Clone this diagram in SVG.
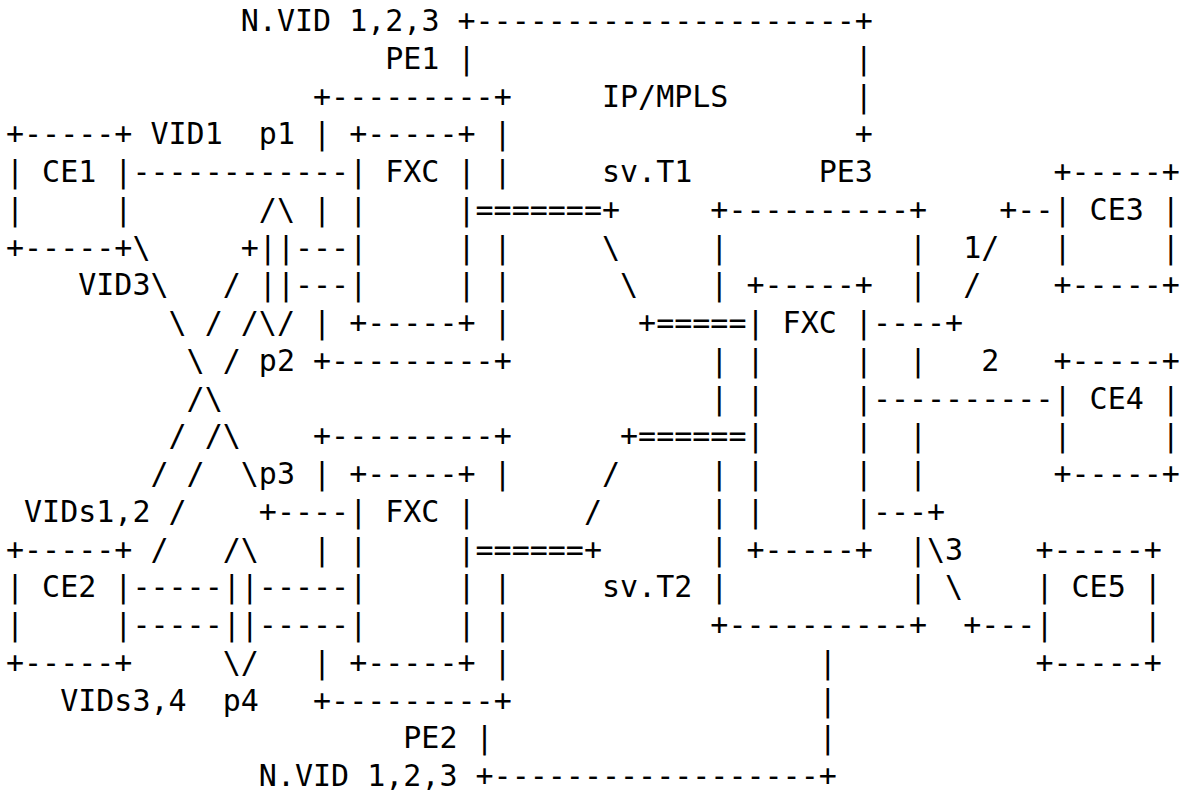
<svg xmlns="http://www.w3.org/2000/svg" width="1187" height="794" viewBox="0 0 1187 794" xml:space="preserve">
<style>
.t { font-family: "DejaVu Sans Mono", "Liberation Mono", monospace; font-size: 30px; fill: #000; white-space: pre; }
</style>
<rect x="0" y="0" width="1187" height="794" fill="#fff"/>
<g class="t">
<g id="CE1">
<text x="6" y="144.25">+-----+</text>
<text x="6" y="182">|&#160;CE1&#160;|</text>
<text x="6" y="219.75">|&#160;&#160;&#160;&#160;&#160;|</text>
<text x="6" y="257.5">+-----+</text>
</g>
<g id="CE2">
<text x="6" y="559.5">+-----+</text>
<text x="6" y="597.25">|&#160;CE2&#160;|</text>
<text x="6" y="635">|&#160;&#160;&#160;&#160;&#160;|</text>
<text x="6" y="672.75">+-----+</text>
</g>
<g id="CE3">
<text x="1053.48" y="182">+-----+</text>
<text x="1053.48" y="219.75">|&#160;CE3&#160;|</text>
<text x="1053.48" y="257.5">|&#160;&#160;&#160;&#160;&#160;|</text>
<text x="1053.48" y="295.25">+-----+</text>
</g>
<g id="CE4">
<text x="1053.48" y="370.75">+-----+</text>
<text x="1053.48" y="408.5">|&#160;CE4&#160;|</text>
<text x="1053.48" y="446.25">|&#160;&#160;&#160;&#160;&#160;|</text>
<text x="1053.48" y="484">+-----+</text>
</g>
<g id="CE5">
<text x="1035.42" y="559.5">+-----+</text>
<text x="1035.42" y="597.25">|&#160;CE5&#160;|</text>
<text x="1035.42" y="635">|&#160;&#160;&#160;&#160;&#160;|</text>
<text x="1035.42" y="672.75">+-----+</text>
</g>
<g id="PE1">
<text x="385.26" y="68.75">PE1</text>
<text x="313.02" y="106.5">+---------+</text>
<text x="313.02" y="144.25">|</text>
<text x="493.62" y="144.25">|</text>
<text x="493.62" y="182">|</text>
<text x="313.02" y="219.75">|</text>
<text x="493.62" y="257.5">|</text>
<text x="493.62" y="295.25">|</text>
<text x="313.02" y="333">|</text>
<text x="493.62" y="333">|</text>
<text x="313.02" y="370.75">+---------+</text>
</g>
<g id="FXC1">
<text x="349.14" y="144.25">+-----+</text>
<text x="349.14" y="182">|&#160;FXC&#160;|</text>
<text x="349.14" y="219.75">|&#160;&#160;&#160;&#160;&#160;|</text>
<text x="349.14" y="257.5">|&#160;&#160;&#160;&#160;&#160;|</text>
<text x="349.14" y="295.25">|&#160;&#160;&#160;&#160;&#160;|</text>
<text x="349.14" y="333">+-----+</text>
</g>
<g id="PE2">
<text x="313.02" y="446.25">+---------+</text>
<text x="313.02" y="484">|</text>
<text x="493.62" y="484">|</text>
<text x="313.02" y="559.5">|</text>
<text x="493.62" y="597.25">|</text>
<text x="493.62" y="635">|</text>
<text x="313.02" y="672.75">|</text>
<text x="493.62" y="672.75">|</text>
<text x="313.02" y="710.5">+---------+</text>
<text x="403.32" y="748.25">PE2</text>
</g>
<g id="FXC2">
<text x="349.14" y="484">+-----+</text>
<text x="349.14" y="521.75">|&#160;FXC&#160;|</text>
<text x="349.14" y="559.5">|&#160;&#160;&#160;&#160;&#160;|</text>
<text x="349.14" y="597.25">|&#160;&#160;&#160;&#160;&#160;|</text>
<text x="349.14" y="635">|&#160;&#160;&#160;&#160;&#160;|</text>
<text x="349.14" y="672.75">+-----+</text>
</g>
<g id="PE3">
<text x="818.7" y="182">PE3</text>
<text x="710.34" y="219.75">+----------+</text>
<text x="710.34" y="257.5">|</text>
<text x="909" y="257.5">|</text>
<text x="710.34" y="295.25">|</text>
<text x="909" y="295.25">|</text>
<text x="710.34" y="370.75">|</text>
<text x="909" y="370.75">|</text>
<text x="710.34" y="408.5">|</text>
<text x="909" y="446.25">|</text>
<text x="710.34" y="484">|</text>
<text x="909" y="484">|</text>
<text x="710.34" y="521.75">|</text>
<text x="710.34" y="559.5">|</text>
<text x="909" y="559.5">|</text>
<text x="710.34" y="597.25">|</text>
<text x="909" y="597.25">|</text>
<text x="710.34" y="635">+----------+</text>
</g>
<g id="FXC3">
<text x="746.46" y="295.25">+-----+</text>
<text x="746.46" y="333">|&#160;FXC&#160;|</text>
<text x="746.46" y="370.75">|&#160;&#160;&#160;&#160;&#160;|</text>
<text x="746.46" y="408.5">|&#160;&#160;&#160;&#160;&#160;|</text>
<text x="746.46" y="446.25">|&#160;&#160;&#160;&#160;&#160;|</text>
<text x="746.46" y="484">|&#160;&#160;&#160;&#160;&#160;|</text>
<text x="746.46" y="521.75">|&#160;&#160;&#160;&#160;&#160;|</text>
<text x="746.46" y="559.5">+-----+</text>
</g>
<g id="IPMPLS">
<text x="601.98" y="106.5">IP/MPLS</text>
</g>
<g id="connectors">
<text x="240.78" y="31">N.VID&#160;1,2,3</text>
<text x="457.5" y="31">+---------------------+</text>
<text x="457.5" y="68.75">|</text>
<text x="854.82" y="68.75">|</text>
<text x="854.82" y="106.5">|</text>
<text x="854.82" y="144.25">+</text>
<text x="150.48" y="144.25">VID1</text>
<text x="258.84" y="144.25">p1</text>
<text x="132.42" y="182">------------</text>
<text x="601.98" y="182">sv.T1</text>
<text x="258.84" y="219.75">/\</text>
<text x="475.56" y="219.75">=======+</text>
<text x="999.3" y="219.75">+--</text>
<text x="132.42" y="257.5">\</text>
<text x="240.78" y="257.5">+||---</text>
<text x="601.98" y="257.5">\</text>
<text x="963.18" y="257.5">1/</text>
<text x="78.24" y="295.25">VID3\</text>
<text x="222.72" y="295.25">/</text>
<text x="258.84" y="295.25">||---</text>
<text x="620.04" y="295.25">\</text>
<text x="963.18" y="295.25">/</text>
<text x="168.54" y="333">\</text>
<text x="204.66" y="333">/</text>
<text x="240.78" y="333">/\/</text>
<text x="638.1" y="333">+=====</text>
<text x="872.88" y="333">----+</text>
<text x="186.6" y="370.75">\</text>
<text x="222.72" y="370.75">/</text>
<text x="258.84" y="370.75">p2</text>
<text x="981.24" y="370.75">2</text>
<text x="186.6" y="408.5">/\</text>
<text x="872.88" y="408.5">----------</text>
<text x="168.54" y="446.25">/</text>
<text x="204.66" y="446.25">/\</text>
<text x="620.04" y="446.25">+======</text>
<text x="150.48" y="484">/</text>
<text x="186.6" y="484">/</text>
<text x="240.78" y="484">\p3</text>
<text x="601.98" y="484">/</text>
<text x="24.06" y="521.75">VIDs1,2</text>
<text x="168.54" y="521.75">/</text>
<text x="258.84" y="521.75">+----</text>
<text x="583.92" y="521.75">/</text>
<text x="872.88" y="521.75">---+</text>
<text x="150.48" y="559.5">/</text>
<text x="222.72" y="559.5">/\</text>
<text x="475.56" y="559.5">======+</text>
<text x="927.06" y="559.5">\3</text>
<text x="132.42" y="597.25">-----||-----</text>
<text x="601.98" y="597.25">sv.T2</text>
<text x="945.12" y="597.25">\</text>
<text x="132.42" y="635">-----||-----</text>
<text x="963.18" y="635">+---</text>
<text x="222.72" y="672.75">\/</text>
<text x="818.7" y="672.75">|</text>
<text x="60.18" y="710.5">VIDs3,4</text>
<text x="222.72" y="710.5">p4</text>
<text x="818.7" y="710.5">|</text>
<text x="475.56" y="748.25">|</text>
<text x="818.7" y="748.25">|</text>
<text x="258.84" y="786">N.VID&#160;1,2,3</text>
<text x="475.56" y="786">+------------------+</text>
</g>
</g>
</svg>
